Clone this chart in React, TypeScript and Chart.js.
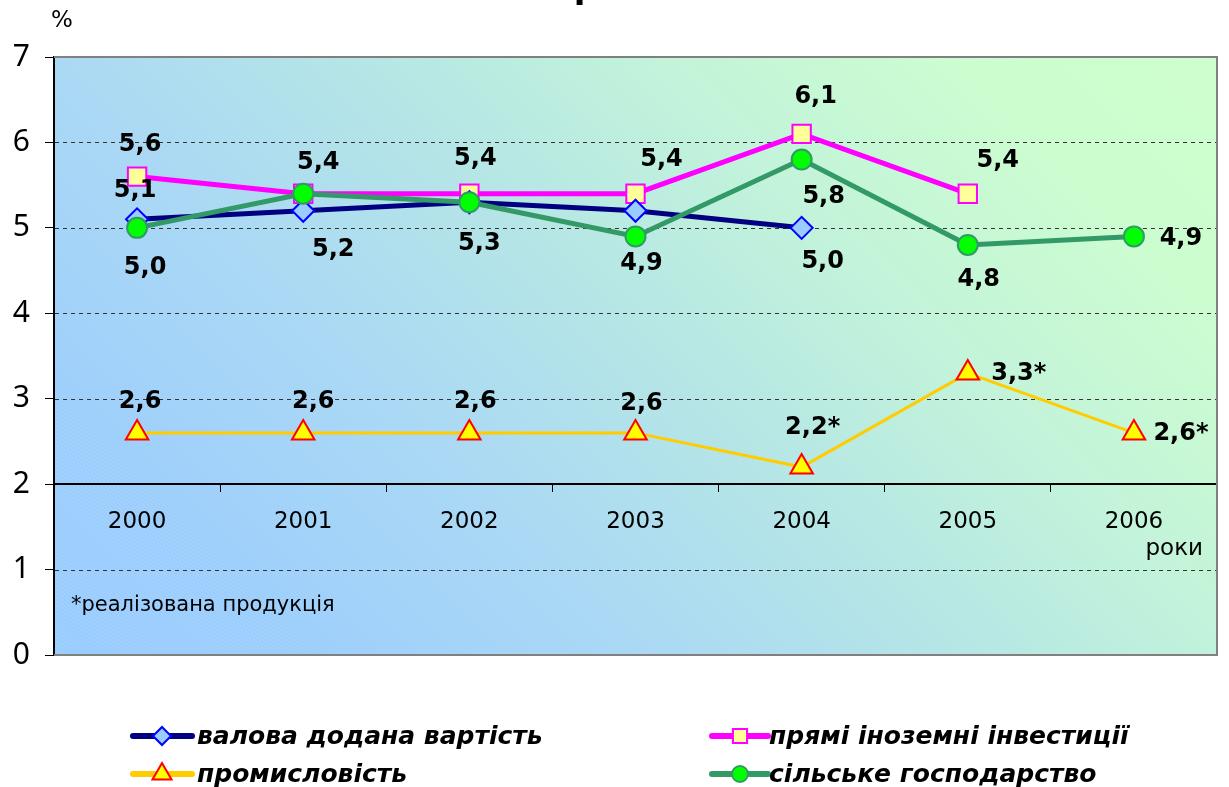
import React, { useEffect, useRef } from "react";
import { Chart, registerables } from "chart.js";
import { drawPoint } from "chart.js/helpers";

Chart.register(...registerables);

// ---- data ----
const years = ["2000", "2001", "2002", "2003", "2004", "2005", "2006"];
const grossValueAdded = [5.1, 5.2, 5.3, 5.2, 5.0, null, null];
const foreignInvestment = [5.6, 5.4, 5.4, 5.4, 6.1, 5.4, null];
const industry = [2.6, 2.6, 2.6, 2.6, 2.2, 3.3, 2.6];
const industryFootnote = [false, false, false, false, true, true, true];
const agriculture = [5.0, 5.4, 5.3, 4.9, 5.8, 4.8, 4.9];
const yTicks = [0, 1, 2, 3, 4, 5, 6, 7];
const seriesNames = [
  "валова додана вартість",
  "прямі іноземні інвестиції",
  "промисловість",
  "сільське господарство",
];

// ---- label placement (style only: [dx, dy] offsets from the point, null = hidden) ----
const labelOffsets: (number[] | null)[][] = [
  [[-2, -29], [30, 39], [10, 42], null, [21, 34], null, null],
  [[3, -32], [15, -31], [6, -35], [26, -34], [14, -37], [30, -33], null],
  [[3, -31], [10, -31], [6, -31], [6, -29], [11, -39], [51, 1], [47, 1]],
  [[8, 40], null, null, [6, 27], [22, 37], [11, 35], [47, 2]],
];

const fmt = (v: number) => v.toFixed(1).replace(".", ",");

const styles = [
  { line: "#000080", fill: "#99CCFF", border: "#0000FF", style: "rectRot", r: 11, lr: 9, lw: 5 },
  { line: "#FF00FF", fill: "#FFFF99", border: "#FF00FF", style: "rect", r: 13, lr: 10, lw: 5 },
  { line: "#FFCC00", fill: "#FFFF00", border: "#FF0000", style: "triangle", r: 13, lr: 11, lw: 3 },
  { line: "#339966", fill: "#00FF00", border: "#339966", style: "circle", r: 10, lr: 8, lw: 5 },
];

const PLOT_RIGHT_GAP = 12;

const bgPlugin = {
  id: "bg",
  afterLayout(chart: any) {
    const xs = chart.scales.x;
    const R = chart.width - PLOT_RIGHT_GAP;
    chart.chartArea.right = R;
    chart.chartArea.width = R - chart.chartArea.left;
    xs.right = R;
    xs.width = R - xs.left;
    xs.configure();
    xs._gridLineItems = null;
    xs._labelItems = null;
  },
  beforeDraw(chart: any) {
    const { ctx, chartArea: a } = chart;
    const { left, right, top, bottom } = a;
    ctx.save();
    const d = ((right - left) + (bottom - top)) / 2;
    const g = ctx.createLinearGradient(left, bottom, left + d, bottom - d);
    g.addColorStop(0, "#99CCFF");
    g.addColorStop(0.15, "#9CCEFC");
    g.addColorStop(0.34, "#A8D8F4");
    g.addColorStop(0.5, "#B2E4E6");
    g.addColorStop(0.66, "#BFF2DA");
    g.addColorStop(0.85, "#CAFDCE");
    g.addColorStop(1, "#CCFFCC");
    ctx.fillStyle = g;
    ctx.fillRect(left, top, right - left, bottom - top);
    ctx.beginPath();
    ctx.rect(left, top, right - left, bottom - top);
    ctx.clip();
    ctx.strokeStyle = "rgba(255,255,255,0.12)";
    ctx.lineWidth = 1;
    ctx.beginPath();
    for (let x = left - (bottom - top); x < right; x += 4) {
      ctx.moveTo(x, top);
      ctx.lineTo(x + (bottom - top), bottom);
    }
    ctx.stroke();
    ctx.restore();
  },
  beforeDatasetsDraw(chart: any) {
    const { ctx, chartArea: a } = chart;
    const ys = chart.scales.y;
    ctx.save();
    yTicks.forEach((v) => {
      const py = Math.round(ys.getPixelForValue(v));
      if (v === 2) return;
      ctx.beginPath();
      if (v === 0 || v === 7) {
        ctx.strokeStyle = "#808080";
        ctx.lineWidth = 2;
        ctx.setLineDash([]);
        ctx.moveTo(a.left, py);
        ctx.lineTo(a.right, py);
      } else {
        ctx.strokeStyle = "#333";
        ctx.lineWidth = 1;
        ctx.setLineDash([4, 4]);
        ctx.moveTo(a.left + 1, py + 0.5);
        ctx.lineTo(a.right, py + 0.5);
      }
      ctx.stroke();
    });
    ctx.setLineDash([]);
    ctx.strokeStyle = "#808080";
    ctx.lineWidth = 2;
    ctx.beginPath();
    ctx.moveTo(a.right, a.top - 1);
    ctx.lineTo(a.right, a.bottom + 1);
    ctx.stroke();
    ctx.fillStyle = "#000";
    ctx.font = "23px 'DejaVu Sans'";
    ctx.textAlign = "right";
    ctx.textBaseline = "middle";
    ctx.fillText("роки", a.right - 14, 549);
    ctx.textAlign = "left";
    ctx.font = "21px 'DejaVu Sans'";
    ctx.fillText("*реалізована продукція", a.left + 17, 606);
    ctx.restore();
  },
};

const labelPlugin = {
  id: "labels",
  afterDatasetsDraw(chart: any) {
    const { ctx } = chart;
    ctx.save();
    ctx.font = "bold 24px 'DejaVu Sans'";
    ctx.fillStyle = "#000";
    ctx.textAlign = "center";
    ctx.textBaseline = "middle";
    chart.data.datasets.forEach((ds: any, di: number) => {
      const meta = chart.getDatasetMeta(di);
      meta.data.forEach((pt: any, i: number) => {
        const v = ds.data[i];
        const off = labelOffsets[di][i];
        if (v == null || !off) return;
        let txt = fmt(v);
        if (di === 2 && industryFootnote[i]) txt += "*";
        ctx.fillText(txt, pt.x + off[0], pt.y + off[1]);
      });
    });
    ctx.restore();
  },
  afterDraw(chart: any) {
    const { ctx } = chart;
    ctx.save();
    ctx.fillStyle = "#000";
    ctx.font = "23px 'DejaVu Sans'";
    ctx.textAlign = "center";
    ctx.textBaseline = "middle";
    ctx.fillText("%", 62, 21);
    ctx.font = "bold 34px 'DejaVu Sans'";
    ctx.textBaseline = "alphabetic";
    ctx.fillText("р", 586, -2);
    const cols = [
      { x0: 133, x1: 192, mx: 162, tx: 197 },
      { x0: 712, x1: 768, mx: 740, tx: 769 },
    ];
    const rows = [736, 774];
    [0, 1, 2, 3].forEach((si, k) => {
      const c = cols[k % 2];
      const y = rows[Math.floor(k / 2)];
      const s = styles[si];
      ctx.strokeStyle = s.line;
      ctx.lineWidth = 6;
      ctx.lineCap = "round";
      ctx.beginPath();
      ctx.moveTo(c.x0, y);
      ctx.lineTo(c.x1, y);
      ctx.stroke();
      ctx.fillStyle = s.fill;
      ctx.strokeStyle = s.border;
      ctx.lineWidth = 2;
      drawPoint(ctx, { pointStyle: s.style, radius: s.lr, rotation: 0, borderWidth: 2 } as any, c.mx, y);
      ctx.fillStyle = "#000";
      ctx.font = "italic bold 25px 'DejaVu Sans'";
      ctx.textAlign = "left";
      ctx.textBaseline = "middle";
      ctx.fillText(seriesNames[si], c.tx, y + 1);
    });
    ctx.restore();
  },
};

export default function App() {
  const ref = useRef<HTMLCanvasElement>(null);
  useEffect(() => {
    const series = [grossValueAdded, foreignInvestment, industry, agriculture];
    const chart = new Chart(ref.current!, {
      type: "line",
      data: {
        labels: years,
        datasets: series.map((d, i) => ({
          label: seriesNames[i],
          data: d,
          borderColor: styles[i].line,
          borderWidth: styles[i].lw,
          backgroundColor: styles[i].fill,
          pointBackgroundColor: styles[i].fill,
          pointBorderColor: styles[i].border,
          pointBorderWidth: 2,
          pointStyle: styles[i].style as any,
          pointRadius: styles[i].r,
          tension: 0,
          spanGaps: false,
          order: [2, 3, 1, 0][i],
        })),
      },
      options: {
        animation: false,
        responsive: false,
        layout: { padding: { top: 57, right: PLOT_RIGHT_GAP, bottom: 132, left: 0 } },
        plugins: { legend: { display: false }, tooltip: { enabled: false }, title: { display: false } },
        scales: {
          y: {
            min: 0,
            max: 7,
            afterFit: (s: any) => { s.width = 54; s.paddingTop = 0; s.paddingBottom = 0; },
            afterBuildTicks: (s: any) => { s.ticks = yTicks.map((v) => ({ value: v })); },
            ticks: { color: "#000", font: { family: "Noto Sans", size: 30 }, padding: 15 },
            border: { display: true, color: "#000", width: 2 },
            grid: {
              drawOnChartArea: false,
              drawTicks: true,
              color: "#000",
              tickColor: "#000",
              tickLength: 9,
            },
          },
          x: {
            type: "category",
            position: { y: 2 } as any,
            offset: true,
            afterFit: (s: any) => { s.paddingLeft = 0; s.paddingRight = 0; },
            ticks: { color: "#000", font: { family: "DejaVu Sans", size: 23 }, padding: 17, maxRotation: 0 },
            border: { display: true, color: "#000", width: 2 },
            grid: { offset: true, drawOnChartArea: false, drawTicks: true, tickLength: 7, color: "#000" },
          },
        },
      },
      plugins: [bgPlugin, labelPlugin],
    });
    return () => chart.destroy();
  }, []);
  return (
    <div style={{ position: "absolute", left: 0, top: 0, width: 1229, height: 787, background: "#fff" }}>
      <canvas ref={ref} width={1229} height={787} style={{ display: "block" }} />
    </div>
  );
}
